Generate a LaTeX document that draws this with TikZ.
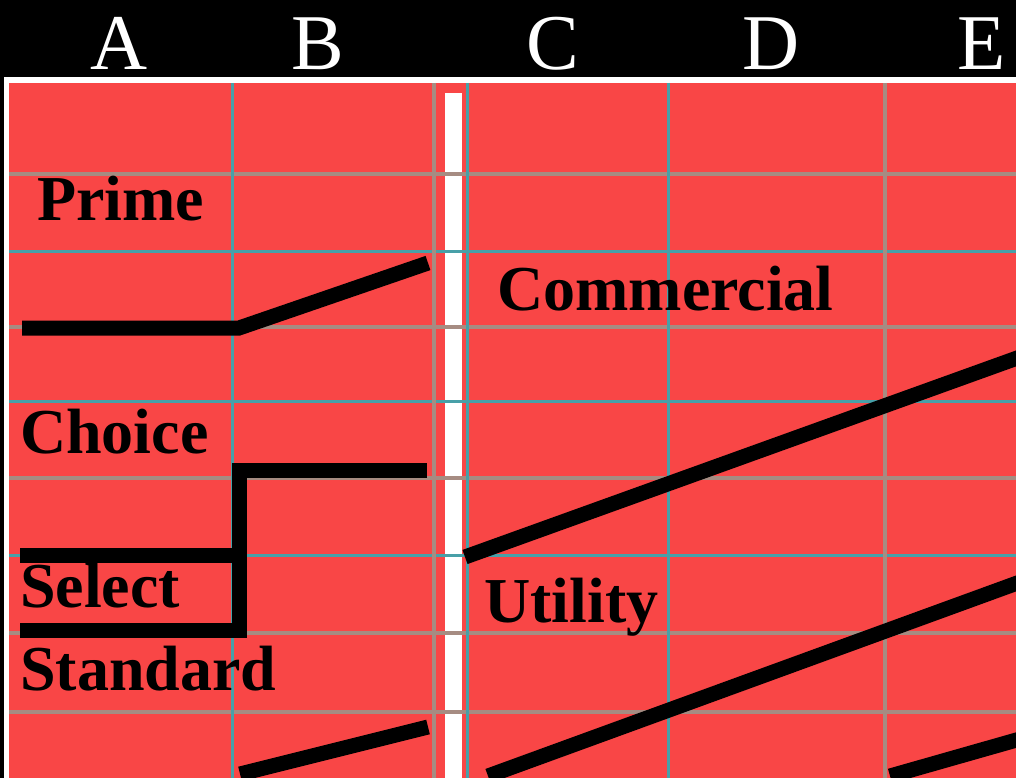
\documentclass[tikz,border=0pt]{standalone}
\usepackage{fontspec}
\setmainfont{Liberation Serif}
\definecolor{chartred}{RGB}{249,70,70}
\definecolor{gridteal}{RGB}{72,160,168}
\definecolor{gridgray}{RGB}{166,140,130}
\begin{document}
\begin{tikzpicture}[x=1pt,y=-1pt,
  hdr/.style={text=white, font=\fontsize{79}{79}\selectfont, inner sep=0pt, anchor=base},
  lbl/.style={text=black, font=\bfseries\fontsize{64}{64}\selectfont, inner sep=0pt, anchor=base west},
  tealline/.style={draw=gridteal, line width=3pt},
  grayline/.style={draw=gridgray, line width=3.5pt},
  thickbar/.style={draw=black, line width=15pt, line cap=butt, line join=miter}]
\useasboundingbox (0,0) rectangle (1016,778);
\clip (0,0) rectangle (1016,778);
% background, frame and red field
\fill[black] (0,0) rectangle (1016,778);
\fill[white] (4,77) rectangle (1016,778);
\fill[chartred] (9,83) rectangle (1016,778);
% white separator bar
\fill[white] (445,93) rectangle (462,778);
% horizontal grid lines
\foreach \yy/\st in {174/grayline,251/tealline,327/grayline,401/tealline,478/grayline,555/tealline,633/grayline,712/grayline}
  \draw[\st] (9,\yy) -- (1016,\yy);
% vertical grid lines
\foreach \xx/\st in {232/tealline,434/grayline,467/tealline,668/tealline,885/grayline}
  \draw[\st] (\xx,83) -- (\xx,778);
% column headers
\node[hdr] (colA) at (119,70) {A};
\node[hdr] (colB) at (318,70) {B};
\node[hdr] (colC) at (553,70) {C};
\node[hdr] (colD) at (771,70) {D};
\node[hdr] (colE) at (982,70) {E};
% labels
\node[lbl] (prime) at (37,220) {Prime};
\node[lbl] (commercial) at (497,310) {Commercial};
\node[lbl] (choice) at (20,453) {Choice};
\node[lbl] (select) at (20,607) {Select};
\node[lbl] (standard) at (20,690) {Standard};
\node[lbl] (utility) at (484,622) {Utility};
% thick black lines
\draw[thickbar] (22,328) -- (239,328) -- (428,263);
\draw[thickbar] (427,470) -- (239,470) -- (239,630) -- (20,630);
\draw[thickbar] (20,555) -- (239,555);
\draw[thickbar] (240,774) -- (428,727);
\draw[thickbar] (465,557) -- (1020,357);
\draw[thickbar] (488,776) -- (1020,582);
\draw[thickbar] (890,776) -- (1020,739);
\end{tikzpicture}
\end{document}
